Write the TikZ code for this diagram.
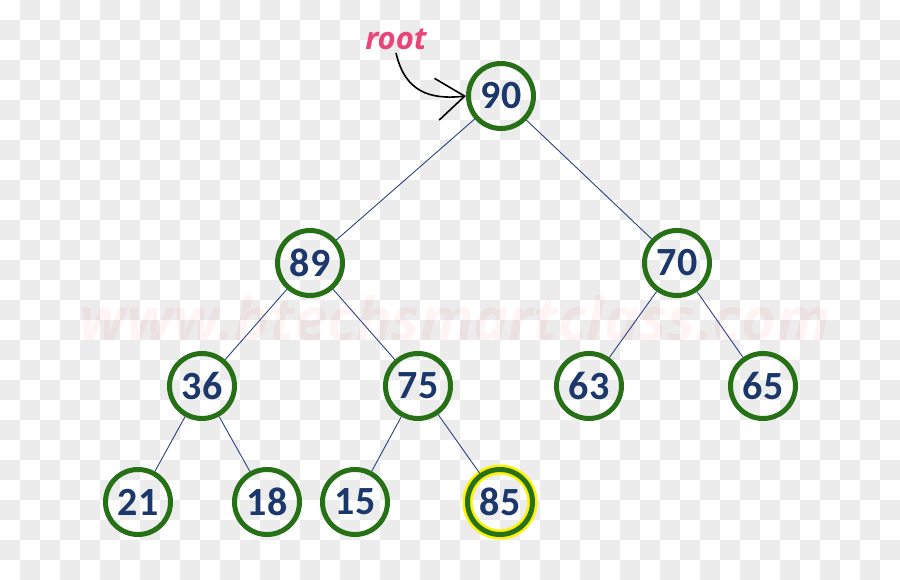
\documentclass[tikz,border=0pt]{standalone}
\usepackage{fontspec}
\setmainfont{Carlito}
\newfontfamily\handfont{Open Sans}
\usetikzlibrary{arrows.meta}
\definecolor{heapgreen}{RGB}{38,112,22}
\definecolor{heapblue}{RGB}{28,55,108}
\definecolor{edgeblue}{RGB}{42,66,128}
\definecolor{rootpink}{RGB}{232,70,122}
\definecolor{checkgray}{RGB}{236,236,236}
\begin{document}
\begin{tikzpicture}[x=1pt,y=-1pt,
  heap/.style={circle,draw=heapgreen,line width=5pt,minimum size=65pt,inner sep=0pt,
    text=heapblue,font=\bfseries\fontsize{40}{42}\selectfont},
  edge/.style={draw=edgeblue,line width=0.9pt}]
\useasboundingbox (0,0) rectangle (900,580);
% transparency checks
\foreach \x in {0,40,...,880}
  \foreach \y in {0,40,...,560} {
    \fill[checkgray] (\x+20,\y) rectangle ++(20,20);
    \fill[checkgray] (\x,\y+20) rectangle ++(20,20);
  }
\node[text=red,opacity=0.045] (mark) at (455,318)
  {\resizebox{750pt}{!}{\handfont\bfseries\itshape www.btechsmartclass.com}};
% the heap
\node[heap] (n90) at (501,96) {90};
\node[heap] (n89) at (310,263) {89};
\node[heap] (n70) at (677,263) {70};
\node[heap] (n36) at (202,386) {36};
\node[heap] (n75) at (418,386) {75};
\node[heap] (n63) at (589,386) {63};
\node[heap] (n65) at (763,386) {65};
\node[heap] (n21) at (138,502) {21};
\node[heap] (n18) at (267,502) {18};
\node[heap] (n15) at (355,502) {15};
\node[heap,preaction={draw=yellow,line width=10pt}] (n85) at (500,502) {85};
\draw[edge] (n90) -- (n89);
\draw[edge] (n90) -- (n70);
\draw[edge] (n89) -- (n36);
\draw[edge] (n89) -- (n75);
\draw[edge] (n70) -- (n63);
\draw[edge] (n70) -- (n65);
\draw[edge] (n36) -- (n21);
\draw[edge] (n36) -- (n18);
\draw[edge] (n75) -- (n15);
\draw[edge] (n75) -- (n85);
% root pointer
\node[text=rootpink,font=\handfont\bfseries\itshape\fontsize{31}{33}\selectfont] (root) at (396,39) {root};
\draw[line width=1.6pt,-{Straight Barb[length=28pt,width=42pt]}]
  (root.south) .. controls (405,92) and (430,100) .. (n90.west);
\end{tikzpicture}
\end{document}
